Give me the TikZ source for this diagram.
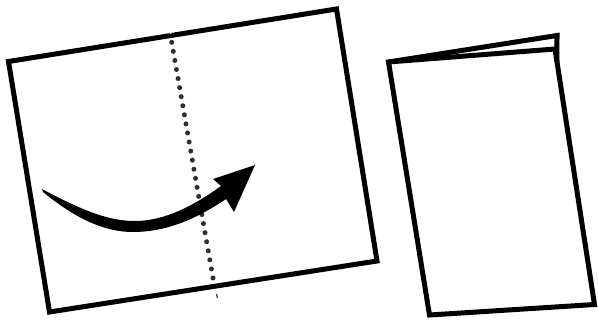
\documentclass[tikz,border=0pt]{standalone}
\usetikzlibrary{calc}

\definecolor{ink}{HTML}{000000}
\definecolor{dotgrey}{HTML}{2E2E2E}

\begin{document}
\begin{tikzpicture}[
    x=1pt, y=-1pt,
    sheet/.style={draw=ink, line width=5pt, line join=miter},
    folddot/.style={circle, fill=dotgrey, minimum size=5pt, inner sep=0pt},
    foldmark/.style={circle, fill=white, minimum size=2pt, inner sep=0pt},
    tick/.style={draw=ink, line width=1pt},
    turn/.style={fill=ink, draw=none},
]
\useasboundingbox (0,0) rectangle (598,321);

% === Open sheet ===

% --- Corners ---
\coordinate (s1) at (8.5,61.5);
\coordinate (s2) at (336.5,9);
\coordinate (s3) at (377,261);
\coordinate (s4) at (49.5,312);
\draw[sheet] (s1) -- (s2) -- (s3) -- (s4) -- cycle;

% --- Fold line (dots) ---
\coordinate (f1) at (171.7,42.3);
\coordinate (f2) at (213,278);
\foreach \k in {0,...,26} {
    \node[folddot] (d\k) at ($(f1)!\k/26!(f2)$) {};
}
\node[foldmark] (ftop) at (170.5,33) {};
\coordinate (t1) at (216.8,294);
\coordinate (t2) at (217.2,298);
\draw[tick] (t1) -- (t2);

% --- Turning arrow ---
\coordinate (a0) at (42,189);   % tail
\coordinate (a1) at (221,186);  % body top at head
\coordinate (a2) at (213,179);  % head base left
\coordinate (a3) at (255,165);  % tip
\coordinate (a4) at (234,212);  % head base right
\coordinate (a5) at (226,199);  % body bottom at head
\fill[turn] (a0) .. controls (85,212) and (110,221) .. (135,221)
    .. controls (165,221) and (195,205) .. (a1)
    -- (a2) -- (a3) -- (a4) -- (a5)
    .. controls (195,220) and (165,232) .. (133,232)
    .. controls (100,232) and (70,214) .. (43,192) -- cycle;

% === Folded booklet ===

% --- Back page ---
\coordinate (b1) at (388.5,62);
\coordinate (b5) at (557,35.5);
% --- Front page ---
\coordinate (b2) at (555,49);
\coordinate (b3) at (594.5,304.5);
\coordinate (b4) at (429.5,315);
\draw[sheet] (b1) -- (b5) -- ($(b2)!0.05!(b3)$);
\draw[sheet] (b1) -- (b2) -- (b3) -- (b4) -- cycle;

\end{tikzpicture}
\end{document}
